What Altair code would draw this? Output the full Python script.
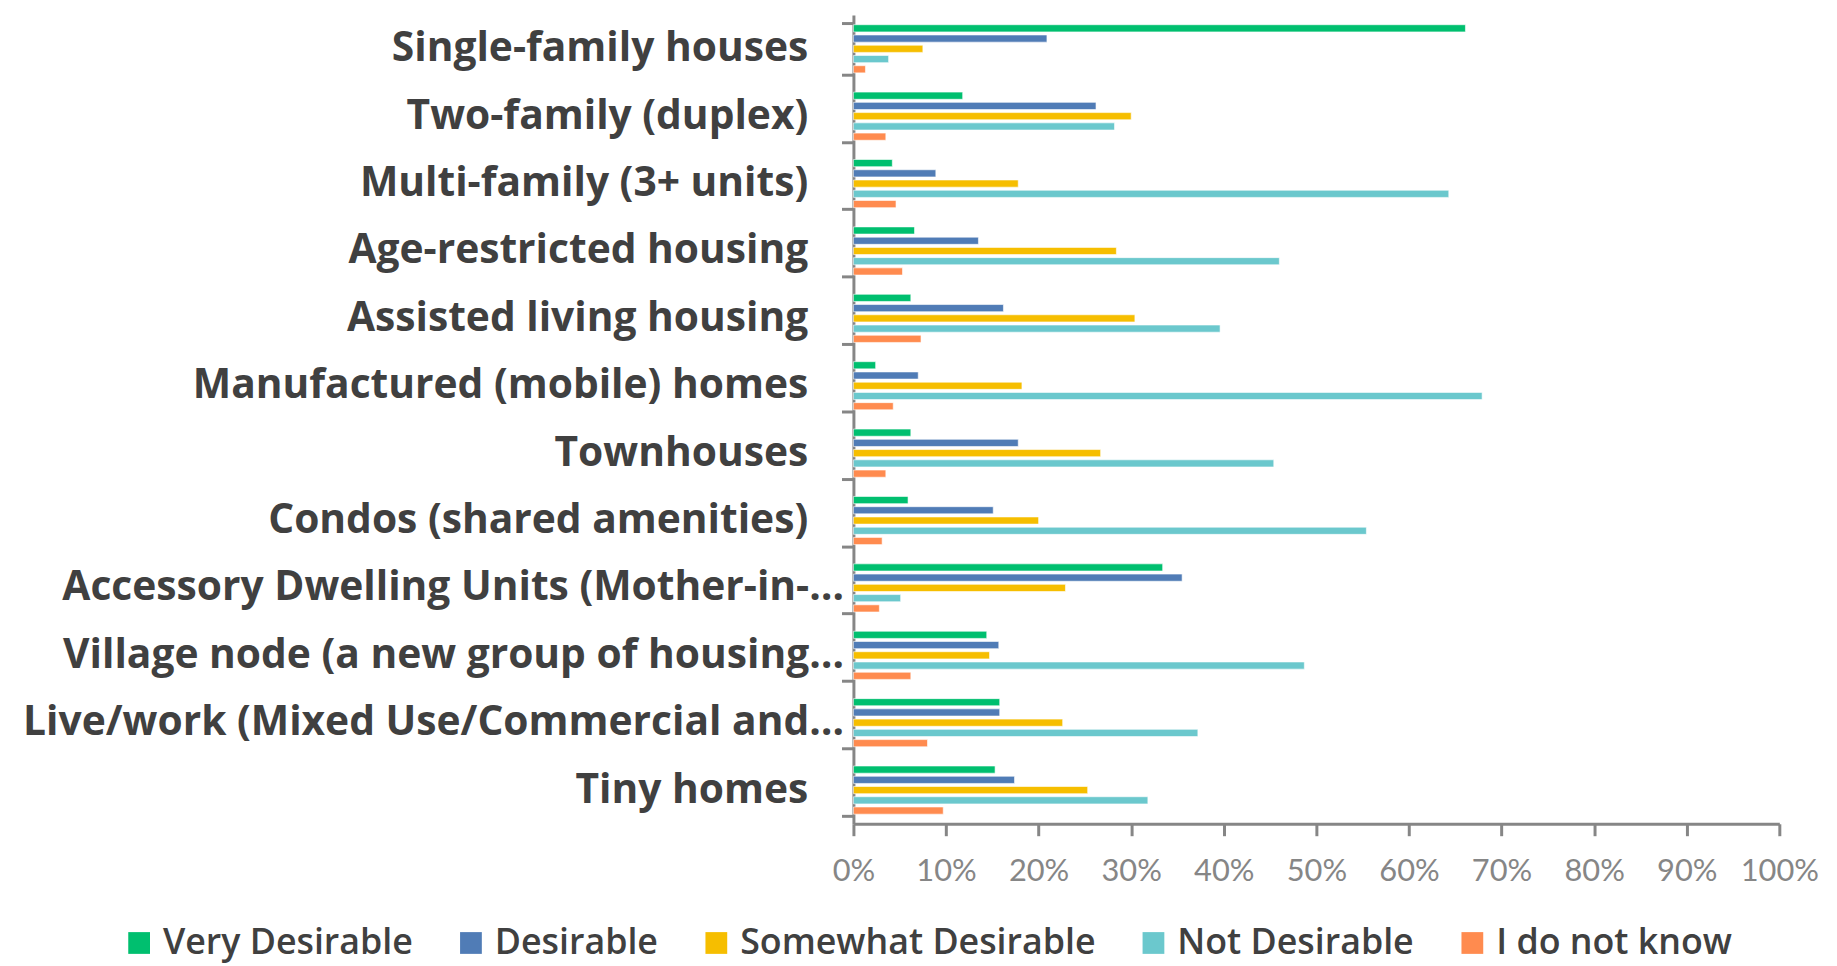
import altair as alt
import pandas as pd

categories = [
    "Single-family houses",
    "Two-family (duplex)",
    "Multi-family (3+ units)",
    "Age-restricted housing",
    "Assisted living housing",
    "Manufactured (mobile) homes",
    "Townhouses",
    "Condos (shared amenities)",
    "Accessory Dwelling Units (Mother-in-…",
    "Village node (a new group of housing…",
    "Live/work (Mixed Use/Commercial and…",
    "Tiny homes",
]
series = ["Very Desirable", "Desirable", "Somewhat Desirable", "Not Desirable", "I do not know"]
colors = ["#00BF6F", "#507CB6", "#F6BE00", "#6BC8CD", "#FF8B4F"]

very_desirable = [66.1, 11.8, 4.2, 6.6, 6.2, 2.4, 6.2, 5.9, 33.4, 14.4, 15.8, 15.3]
desirable = [20.9, 26.2, 8.9, 13.5, 16.2, 7.0, 17.8, 15.1, 35.5, 15.7, 15.8, 17.4]
somewhat_desirable = [7.5, 30.0, 17.8, 28.4, 30.4, 18.2, 26.7, 20.0, 22.9, 14.7, 22.6, 25.3]
not_desirable = [3.8, 28.2, 64.3, 46.0, 39.6, 67.9, 45.4, 55.4, 5.1, 48.7, 37.2, 31.8]
do_not_know = [1.3, 3.5, 4.6, 5.3, 7.3, 4.3, 3.5, 3.1, 2.8, 6.2, 8.0, 9.7]

values = [very_desirable, desirable, somewhat_desirable, not_desirable, do_not_know]
rows = []
for s, vals in zip(series, values):
    for c, v in zip(categories, vals):
        rows.append({"category": c, "series": s, "value": v / 100.0})
df = pd.DataFrame(rows)

FONT = "Open Sans"

chart = alt.Chart(df).mark_bar(stroke="white", strokeWidth=0.6).encode(
    y=alt.Y(
        "category:N",
        sort=categories,
        title=None,
        scale=alt.Scale(paddingInner=0.24, paddingOuter=0.12),
        axis=alt.Axis(
            tickBand="extent",
            tickSize=12,
            tickWidth=3,
            tickColor="#868686",
            domainColor="#868686",
            domainWidth=3,
            labelFont=FONT,
            labelFontSize=41,
            labelFontWeight="bold",
            labelColor="#404040",
            labelLimit=1000,
            labelPadding={"condition": {"test": "indexof(datum.label, '…') >= 0", "value": -2}, "value": 34},
        ),
    ),
    yOffset=alt.YOffset(
        "series:N",
        sort=series,
        scale=alt.Scale(paddingInner=0.3, paddingOuter=0.15),
    ),
    x=alt.X(
        "value:Q",
        title=None,
        scale=alt.Scale(domain=[0, 1], nice=False),
        axis=alt.Axis(
            format=".0%",
            values=[i / 10 for i in range(11)],
            grid=False,
            tickSize=12,
            tickWidth=3,
            tickColor="#868686",
            domainColor="#868686",
            domainWidth=3,
            labelFont="Lato",
            labelFontSize=31,
            labelColor="#868686",
            labelPadding=21,
            labelFlush=False,
        ),
    ),
    color=alt.Color(
        "series:N",
        sort=series,
        scale=alt.Scale(domain=series, range=colors),
        legend=alt.Legend(
            title=None,
            orient="none",
            direction="horizontal",
            legendX=-737,
            legendY=916,
            symbolType="square",
            symbolSize=480,
            symbolStrokeWidth=0,
            labelFont=FONT,
            labelFontSize=36,
            labelFontWeight=600,
            labelColor="#404040",
            labelLimit=1000,
            columnPadding=40,
            labelOffset=6,
            padding=0,
        ),
    ),
).properties(
    width=932,
    height=814,
    autosize=alt.AutoSizeParams(type="none"),
    padding={"left": 851, "top": 4, "right": 50, "bottom": 140},
).configure_view(stroke=None)

chart.save("out.html", embed_options={"renderer": "svg", "actions": False})
